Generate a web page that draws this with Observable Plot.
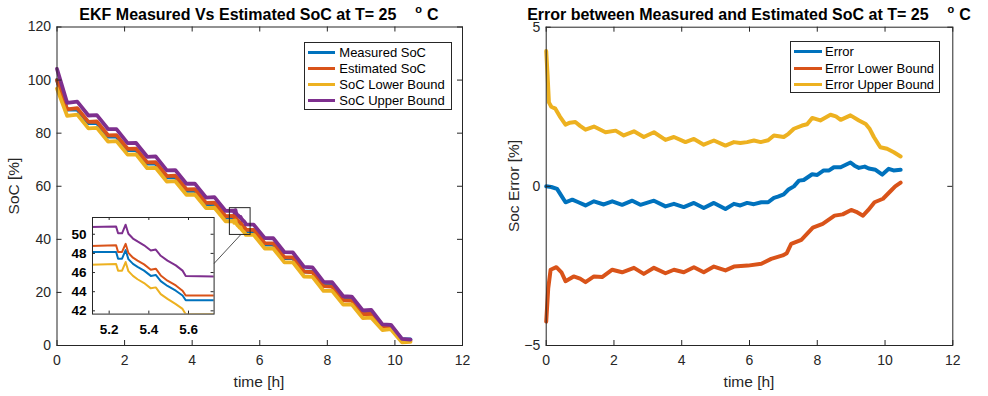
<!DOCTYPE html>
<html><head><meta charset="utf-8">
<script src="https://cdn.jsdelivr.net/npm/d3@7"></script>
<script src="https://cdn.jsdelivr.net/npm/@observablehq/plot@0.6"></script>
<style>
body{margin:0;background:#fff;font-family:"Liberation Sans",Arial,sans-serif;}
#root{position:relative;width:988px;height:396px;overflow:hidden;background:#fff}
.title{position:absolute;font-weight:bold;font-size:16px;color:#000;white-space:nowrap;transform:translateX(-50%);line-height:12px;height:12px}
.xlab{position:absolute;font-size:15.5px;color:#262626;white-space:nowrap;transform:translate(-50%,-50%)}
.ylab{position:absolute;font-size:15.5px;color:#262626;white-space:nowrap;transform:translate(-50%,-50%) rotate(-90deg)}
.legend{position:absolute;border:1px solid #262626;background:#fff;box-sizing:border-box;font-size:13px;color:#000}
.row{position:absolute;left:0;height:16px;display:flex;align-items:center;white-space:nowrap}
.sw{display:inline-block;height:3px}
</style></head>
<body><div id="root"></div>
<script>
// ---------------- Left panel: SoC (%) vs time (h) ----------------
const socTime = [0,0.30,0.60,0.93,1.18,1.51,1.76,2.09,2.34,2.67,
  2.92,3.25,3.50,3.83,4.08,4.41,4.66,4.99,
  5.235,5.245,5.265,5.283,5.297,5.32,5.343,5.376,5.41,5.435,5.46,5.494,5.536,5.57,5.586,
  5.82,6.15,6.40,6.73,6.98,7.31,7.56,7.89,8.14,8.47,8.72,9.05,9.30,9.63,9.88,10.21,10.46];
const socMeasured = [100.0,88.9,88.9,83.8,83.8,78.7,78.7,73.6,73.6,68.5,
  68.5,63.4,63.4,58.3,58.3,53.2,53.2,48.15,
  48.15,47.45,47.45,48.35,47.4,46.9,46.6,46.2,45.65,45.75,45.1,44.6,44.1,43.6,43.1,
  43.1,38.0,38.0,32.9,32.9,27.8,27.8,22.7,22.7,17.6,17.6,12.5,12.5,7.4,7.4,2.3,2.3];
const socEstimated = [100.0,89.0,89.4,84.25,84.4,79.2,79.25,74.1,74.15,69.0,
  69.05,63.85,64.0,58.85,58.95,53.75,53.85,48.7,
  48.85,48.15,48.15,49.0,48.05,47.55,47.25,46.85,46.3,46.4,45.7,45.15,44.65,44.1,43.6,
  43.6,38.55,38.5,33.25,33.15,27.8,27.6,22.35,22.2,17.05,16.95,11.8,11.9,6.85,7.05,1.75,1.8];
const socLower = [96.8,86.5,87.0,81.8,82.0,76.85,77.0,71.9,72.0,66.8,
  66.95,61.75,61.9,56.8,56.9,51.75,51.9,46.75,
  46.9,46.2,46.2,47.1,46.15,45.65,45.3,44.9,44.35,44.45,43.75,43.25,42.7,42.2,41.65,
  41.7,36.55,36.55,31.3,31.35,26.0,25.85,20.55,20.6,15.4,15.5,10.3,10.5,5.8,6.15,1.2,1.35];
const socUpper = [104.2,91.45,91.9,86.65,86.8,81.55,81.5,76.25,76.3,71.1,
  71.25,66.0,66.1,60.95,61.0,55.75,55.9,50.7,
  50.8,50.1,50.1,51.0,50.05,49.55,49.25,48.85,48.3,48.4,47.75,47.25,46.75,46.2,45.65,
  45.55,40.45,40.4,35.15,35.05,29.6,29.45,24.0,23.9,18.55,18.45,13.25,13.4,7.95,7.8,2.5,2.2];
const socSeriesNames = ["Measured SoC","Estimated SoC","SoC Lower Bound","SoC Upper Bound"];

// ---------------- Right panel: error (%) vs time (h) ----------------
const errTime = [0,0.15,0.32,0.45,0.57,0.77,0.95,1.16,1.41,1.70,1.95,2.24,2.54,2.78,3.18,3.52,3.77,4.06,4.36,4.65,4.95,5.29,5.54,5.73,5.93,6.13,6.35,6.55,6.72,6.84,7.01,7.15,7.31,7.46,7.60,7.85,8.00,8.19,8.35,8.49,8.69,8.98,9.10,9.23,9.40,9.52,9.72,9.92,10.11,10.25,10.46];
const errValue = [0,-0.02,-0.08,-0.3,-0.5,-0.42,-0.5,-0.6,-0.47,-0.57,-0.47,-0.58,-0.45,-0.58,-0.45,-0.63,-0.55,-0.65,-0.52,-0.68,-0.52,-0.71,-0.55,-0.6,-0.52,-0.56,-0.5,-0.5,-0.36,-0.32,-0.25,-0.1,0.0,0.18,0.2,0.38,0.36,0.5,0.5,0.6,0.6,0.75,0.65,0.58,0.62,0.56,0.52,0.37,0.55,0.5,0.52];
const errLowTime = [0,0.06,0.13,0.30,0.45,0.57,0.81,1.0,1.16,1.41,1.65,1.95,2.24,2.59,2.88,3.18,3.52,3.77,4.06,4.36,4.65,4.95,5.29,5.54,5.95,6.35,6.64,6.98,7.10,7.23,7.53,7.87,8.16,8.51,8.75,9.0,9.15,9.35,9.5,9.69,9.94,10.18,10.3,10.46];
const errLowValue = [-4.25,-3.2,-2.62,-2.54,-2.7,-2.98,-2.83,-2.9,-3.01,-2.83,-2.85,-2.62,-2.70,-2.56,-2.75,-2.56,-2.73,-2.62,-2.70,-2.54,-2.70,-2.52,-2.64,-2.52,-2.49,-2.43,-2.28,-2.17,-2.1,-1.81,-1.68,-1.30,-1.18,-0.92,-0.88,-0.74,-0.8,-0.92,-0.75,-0.50,-0.39,-0.13,0.0,0.12];
const errUpTime = [0,0.04,0.08,0.15,0.27,0.4,0.57,0.7,0.86,1.0,1.16,1.41,1.75,2.05,2.29,2.59,2.88,3.18,3.52,3.77,4.11,4.36,4.65,4.95,5.29,5.54,5.73,5.93,6.13,6.33,6.55,6.72,7.01,7.15,7.31,7.55,7.70,7.85,8.09,8.39,8.55,8.69,8.98,9.23,9.43,9.55,9.67,9.86,10.06,10.26,10.46];
const errUpValue = [4.25,3.5,2.64,2.5,2.44,2.2,1.94,2.0,2.02,1.9,1.78,1.88,1.70,1.75,1.6,1.73,1.55,1.7,1.46,1.55,1.39,1.49,1.31,1.44,1.28,1.39,1.36,1.39,1.44,1.39,1.45,1.6,1.55,1.65,1.81,1.91,1.95,2.15,2.07,2.25,2.2,2.09,2.23,2.07,1.96,1.8,1.55,1.23,1.18,1.07,0.94];
const errSeriesNames = ["Error","Error Lower Bound","Error Upper Bound"];

// ---------------- Axes / ticks ----------------
const timeTicks = [0,2,4,6,8,10,12];
const socTicks = [0,20,40,60,80,100,120];
const errTicks = [-5,0,5];
const insetTimeDomain = [5.116,5.729];
const insetSocDomain = [41.66,51.75];
const insetTimeTicks = [5.2,5.4,5.6];
const insetSocTicks = [42,44,46,48,50];
const connector = [{x1:4.64,y1:30.8,x2:5.43,y2:41.66}];

const C = {blue:"#0072BD", red:"#D95319", yellow:"#EDB120", purple:"#7E2F8E"};
const FONT = '"Liberation Sans", Arial, sans-serif';
const AX = "#262626";

const root = document.getElementById("root");
function place(el, left, top){ el.style.position="absolute"; el.style.left=left+"px"; el.style.top=top+"px"; root.appendChild(el); return el; }

function rows(times, vals){ return times.map((t,i)=>({t, v: vals[i]})); }

function frameTicks(xt, yt, pw, ph, len){
  return [
    Plot.ruleX(xt, {stroke: AX, strokeWidth: 1, insetTop: ph - len}),
    Plot.ruleX(xt, {stroke: AX, strokeWidth: 1, insetBottom: ph - len}),
    Plot.ruleY(yt, {stroke: AX, strokeWidth: 1, insetRight: pw - len}),
    Plot.ruleY(yt, {stroke: AX, strokeWidth: 1, insetLeft: pw - len}),
  ];
}

// ----- Left plot -----
{
  const W=494, H=396, mL=56.5, mR=32, mT=26.5, mB=51;
  const pw=W-mL-mR, ph=H-mT-mB;
  const series = [socMeasured, socEstimated, socLower, socUpper];
  const cols = [C.blue, C.red, C.yellow, C.purple];
  const p = Plot.plot({
    width: W, height: H, marginLeft: mL, marginRight: mR, marginTop: mT, marginBottom: mB,
    x: {domain: [0,12]}, y: {domain: [0,120]},
    style: {fontFamily: FONT, fontSize: "14px", color: AX, background: "transparent", overflow: "visible"},
    marks: [
      ...series.map((s,i)=>Plot.line(rows(socTime, s), {x:"t", y:"v", stroke: cols[i], strokeWidth: 3.8, strokeLinejoin:"round"})),
      Plot.rect([{}], {x1: ()=>insetTimeDomain[0], x2: ()=>insetTimeDomain[1], y1: ()=>insetSocDomain[0], y2: ()=>insetSocDomain[1], fill: "none", stroke: AX, strokeWidth: 1}),
      Plot.link(connector, {x1:"x1", y1:"y1", x2:"x2", y2:"y2", stroke: AX, strokeWidth: 0.8}),
      Plot.frame({stroke: AX, strokeWidth: 1}),
      ...frameTicks(timeTicks, socTicks, pw, ph, 5),
      Plot.axisX({ticks: timeTicks, tickSize: 0, tickPadding: 10, label: null, fontSize: 14, fill: AX}),
      Plot.axisY({ticks: socTicks, tickSize: 0, tickPadding: 6, label: null, fontSize: 14, fill: AX}),
    ]
  });
  place(p, 0, 0);
}

// ----- Inset plot -----
{
  const W=163.6, H=124.6, mL=40, mR=2, mT=2, mB=26;
  const pw=W-mL-mR, ph=H-mT-mB;
  const series = [socMeasured, socEstimated, socLower, socUpper];
  const cols = [C.blue, C.red, C.yellow, C.purple];
  const p = Plot.plot({
    width: W, height: H, marginLeft: mL, marginRight: mR, marginTop: mT, marginBottom: mB,
    x: {domain: insetTimeDomain}, y: {domain: insetSocDomain},
    style: {fontFamily: FONT, fontSize: "13px", color: "#000", background: "transparent", overflow: "visible"},
    marks: [
      Plot.rect([{}], {x1: ()=>insetTimeDomain[0], x2: ()=>insetTimeDomain[1], y1: ()=>insetSocDomain[0], y2: ()=>insetSocDomain[1], fill: "#fff"}),
      ...series.map((s,i)=>Plot.line(rows(socTime, s), {x:"t", y:"v", stroke: cols[i], strokeWidth: 2, clip: true})),
      Plot.frame({stroke: AX, strokeWidth: 1}),
      ...frameTicks(insetTimeTicks, insetSocTicks, pw, ph, 3),
      Plot.axisX({ticks: insetTimeTicks, tickSize: 0, tickPadding: 10, label: null, fontSize: 13.5, fontWeight: "bold", fill: "#000", tickFormat: d=>d.toFixed(1)}),
      Plot.axisY({ticks: insetSocTicks, tickSize: 0, tickPadding: 6, label: null, fontSize: 13.5, fontWeight: "bold", fill: "#000"}),
    ]
  });
  place(p, 91.7-40, 216.7-2);
}

// ----- Right plot -----
{
  const W=494, H=396, mL=51.7, mR=35.7, mT=26.7, mB=51;
  const pw=W-mL-mR, ph=H-mT-mB;
  const p = Plot.plot({
    width: W, height: H, marginLeft: mL, marginRight: mR, marginTop: mT, marginBottom: mB,
    x: {domain: [0,12]}, y: {domain: [-5,5]},
    style: {fontFamily: FONT, fontSize: "14px", color: AX, background: "transparent", overflow: "visible"},
    marks: [
      Plot.line(rows(errTime, errValue), {x:"t", y:"v", stroke: C.blue, strokeWidth: 4, strokeLinejoin:"round"}),
      Plot.line(rows(errLowTime, errLowValue), {x:"t", y:"v", stroke: C.red, strokeWidth: 4, strokeLinejoin:"round"}),
      Plot.line(rows(errUpTime, errUpValue), {x:"t", y:"v", stroke: C.yellow, strokeWidth: 4, strokeLinejoin:"round"}),
      Plot.frame({stroke: AX, strokeWidth: 1}),
      ...frameTicks(timeTicks, errTicks, pw, ph, 5),
      Plot.axisX({ticks: timeTicks, tickSize: 0, tickPadding: 10, label: null, fontSize: 14, fill: AX}),
      Plot.axisY({ticks: errTicks, tickSize: 0, tickPadding: 6, label: null, fontSize: 14, fill: AX}),
    ]
  });
  place(p, 494, 0);
}

// ----- Titles, axis labels, legends -----
function div(cls, html){ const d=document.createElement("div"); d.className=cls; d.innerHTML=html; return d; }
const sup = '<span style="display:inline-block;margin-left:19px;font-size:11px;position:relative;top:-7px">o</span><span style="margin-left:5px">C</span>';
place(div("title", "EKF Measured Vs Estimated SoC at T= 25" + sup), 259, 8.5);
place(div("title", "Error between Measured and Estimated SoC at T= 25" + sup), 749, 8.5);
place(div("xlab", "time [h]"), 259, 381.5);
place(div("xlab", "time [h]"), 749, 381.5);
place(div("ylab", "SoC [%]"), 14, 186);
place(div("ylab", "Soc Error [%]"), 514, 186);

function legend(left, top, w, h, names, cols, swL, swW, textL, centers){
  const lg = div("legend", "");
  lg.style.width = w+"px"; lg.style.height = h+"px";
  names.forEach((n,i)=>{
    const r = document.createElement("div"); r.className="row";
    r.style.top = (centers[i]-top-8-1)+"px";
    r.innerHTML = `<span class="sw" style="margin-left:${swL-1}px;width:${swW}px;background:${cols[i]}"></span><span style="margin-left:${textL-swL-swW}px">${n}</span>`;
    lg.appendChild(r);
  });
  place(lg, left, top);
}
legend(304, 41.7, 148, 68.5, socSeriesNames, [C.blue,C.red,C.yellow,C.purple], 4, 27, 35.3, [52.3,68.4,84.6,100.7]);
legend(790, 41, 150, 52, errSeriesNames, [C.blue,C.red,C.yellow], 4, 28.3, 35, [51.7,68.1,84.4]);
</script></body></html>
